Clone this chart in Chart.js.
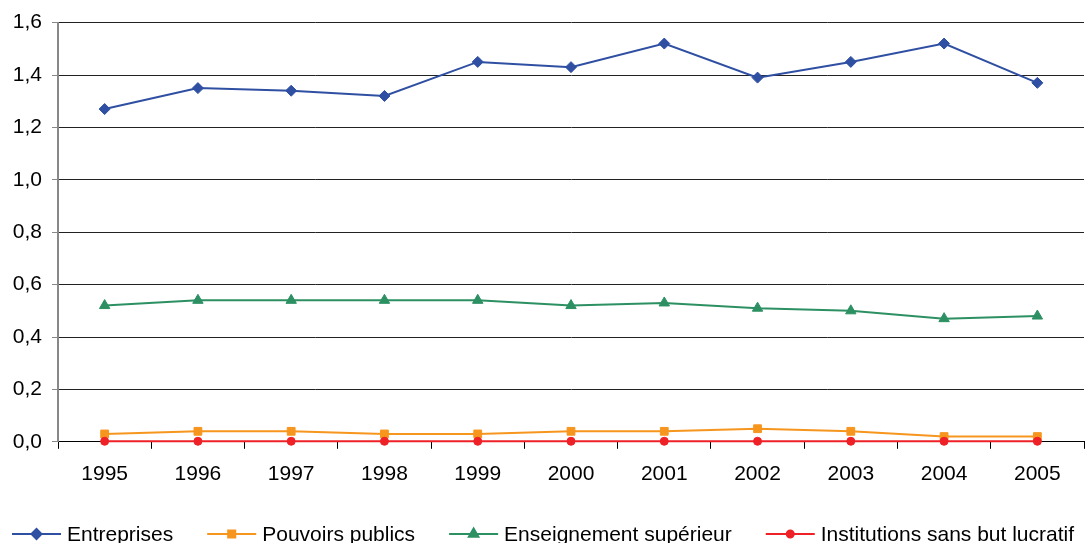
<!DOCTYPE html>
<html>
<head>
<meta charset="utf-8">
<script src="https://cdn.jsdelivr.net/npm/chart.js@4.4.1/dist/chart.umd.min.js"></script>
<style>
html,body{margin:0;padding:0;background:#fff;overflow:hidden;}
#wrap{position:relative;width:1091px;height:562px;}
</style>
</head>
<body>
<div id="wrap"><canvas id="c"></canvas></div>
<script>
const years = ['1995','1996','1997','1998','1999','2000','2001','2002','2003','2004','2005'];
const entreprises = [1.27,1.35,1.34,1.32,1.45,1.43,1.52,1.39,1.45,1.52,1.37];
const pouvoirsPublics = [0.03,0.04,0.04,0.03,0.03,0.04,0.04,0.05,0.04,0.02,0.02];
const enseignementSup = [0.52,0.54,0.54,0.54,0.54,0.52,0.53,0.51,0.50,0.47,0.48];
const institutionsSBL = [0.002,0.002,0.002,0.002,0.002,0.002,0.002,0.002,0.002,0.002,0.002];
const seriesNames = ['Entreprises','Pouvoirs publics','Enseignement supérieur','Institutions sans but lucratif'];
const yTicks = [0,0.2,0.4,0.6,0.8,1.0,1.2,1.4,1.6];

const colors = ['#2f4fa2','#f7961e','#2c9062','#ee2127'];
const styles = ['rectRot','rect','triangle','circle'];
const radii = [5.5,5.5,6,4];

const dataArrays = [entreprises, pouvoirsPublics, enseignementSup, institutionsSBL];
const datasets = dataArrays.map((d,i)=>({
  label: seriesNames[i],
  data: d,
  borderColor: colors[i],
  backgroundColor: colors[i],
  borderWidth: 2,
  pointStyle: styles[i],
  pointRadius: radii[i],
  pointBorderWidth: 1,
  pointBackgroundColor: colors[i],
  pointBorderColor: colors[i],
  tension: 0,
  clip: false
}));

const fontFamily = '"Liberation Sans", Arial, sans-serif';
const font = {family: fontFamily, size: 21};

const bottomLegend = {
  id: 'bottomLegend',
  afterDraw(chart) {
    const ctx = chart.ctx;
    ctx.save();
    ctx.font = '21px ' + fontFamily;
    const iconW = 49, gapIcon = 6, gapItem = 34;
    const widths = seriesNames.map(n => ctx.measureText(n).width);
    const total = widths.reduce((a,b)=>a+b,0) + seriesNames.length*(iconW+gapIcon) + (seriesNames.length-1)*gapItem;
    let x = Math.min(12, (chart.width - total)/2);
    const y = 534;
    seriesNames.forEach((n,i)=>{
      ctx.strokeStyle = colors[i]; ctx.lineWidth = 2;
      ctx.beginPath(); ctx.moveTo(x, y); ctx.lineTo(x+iconW, y); ctx.stroke();
      ctx.fillStyle = colors[i];
      Chart.helpers.drawPoint(ctx, {pointStyle: styles[i], radius: radii[i]-0.5, borderWidth: 1, rotation: 0}, x+iconW/2, y);
      ctx.fill();
      ctx.fillStyle = '#000';
      ctx.textBaseline = 'middle';
      ctx.textAlign = 'left';
      ctx.fillText(n, x+iconW+gapIcon, y+1);
      x += iconW + gapIcon + widths[i] + gapItem;
    });
    ctx.restore();
  }
};

new Chart(document.getElementById('c'), {
  type: 'line',
  data: {labels: years, datasets: datasets.slice().reverse()},
  plugins: [bottomLegend],
  options: {
    responsive: true,
    maintainAspectRatio: false,
    animation: false,
    layout: {padding: {top: 11, right: 6, left: 0, bottom: 62}},
    plugins: {
      tooltip: {enabled: false},
      legend: {display: false}
    },
    scales: {
      x: {
        offset: true,
        grid: {display: true, drawOnChartArea: false, offset: true, color: '#000', tickLength: 7, lineWidth: 1},
        border: {display: true, color: '#000', width: 1},
        ticks: {font: font, color: '#000', padding: 13, maxRotation: 0}
      },
      y: {
        min: 0, max: 1.6,
        afterBuildTicks: (s) => { s.ticks = yTicks.map(v=>({value:v})); },
        afterFit: (s) => { s.width = 58; },
        grid: {color: '#222', lineWidth: 1, tickLength: 6, tickColor: '#888'},
        border: {display: true, color: '#888', width: 2},
        ticks: {
          font: font, color: '#000', padding: 10,
          callback: (v) => Number(v).toFixed(1).replace('.', ',')
        }
      }
    }
  }
});
</script>
</body>
</html>
